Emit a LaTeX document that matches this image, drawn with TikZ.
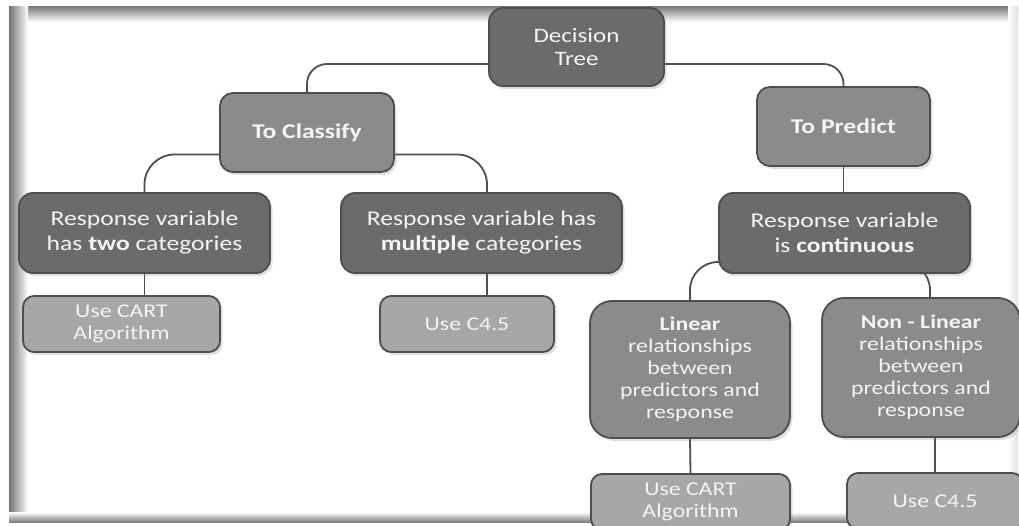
\documentclass[tikz,border=0pt]{standalone}
\usepackage{fontspec}
\setmainfont{Carlito}[FakeStretch=1.22]
\usetikzlibrary{shadows}
\definecolor{darkbox}{HTML}{6B6B6B}
\definecolor{midbox}{HTML}{8B8B8B}
\definecolor{lightbox}{HTML}{A7A7A7}
\definecolor{edgecol}{HTML}{4E4E4E}
\definecolor{txt}{HTML}{F4F4F4}
\pgfdeclarelayer{framelayer}
\pgfdeclarelayer{background}
\pgfsetlayers{framelayer,background,main}
\tikzset{
  box/.style={draw=edgecol, line width=1.8pt, text=txt, align=center, inner sep=0pt,
    drop shadow={opacity=0.25, shadow xshift=2.5pt, shadow yshift=-3pt}},
  bigfont/.style={font=\fontsize{21}{25}\selectfont},
  smallfont/.style={font=\fontsize{19.5}{22}\selectfont},
  darkb/.style={box, bigfont, fill=darkbox, rounded corners=14pt},
  midb/.style={box, bigfont, fill=midbox, rounded corners=13pt},
  tallb/.style={box, smallfont, fill=midbox, rounded corners=22pt},
  leafb/.style={box, smallfont, fill=lightbox, rounded corners=11pt},
  conn/.style={draw=edgecol, line width=1.8pt},
}
\begin{document}
\begin{tikzpicture}[x=1pt, y=-1pt]
\useasboundingbox (0,0) rectangle (1019,526);
\begin{pgfonlayer}{framelayer}
  \fill[white] (0,0) rectangle (1019,526);
  \shade[top color=black!50, bottom color=white] (9,7) rectangle (1018,22);
  \shade[left color=black!55, right color=white] (9,7) rectangle (28,522);
  \shade[bottom color=black!50, top color=white] (9,512) rectangle (1018,522);
  \shade[right color=black!12, left color=white] (1008,7) rectangle (1018,522);
\end{pgfonlayer}

% nodes
\node[darkb, minimum width=175pt, minimum height=78pt, font=\fontsize{20.5}{23}\selectfont] (dt) at (576.5,47) {Decision\\Tree};
\node[midb, minimum width=174pt, minimum height=79pt] (tc) at (307,132.5) {\textbf{To Classify}};
\node[midb, minimum width=173pt, minimum height=79pt] (tp) at (843.5,126.5) {\textbf{To Predict}};

\node[darkb, minimum width=251pt, minimum height=80pt] (r2) at (144.5,233) {Response variable\\has \textbf{two} categories};
\node[darkb, minimum width=281pt, minimum height=80pt] (rm) at (481.5,233) {Response variable has\\\textbf{multiple} categories};
\node[darkb, minimum width=251pt, minimum height=80pt] (rc) at (844.5,233) {Response variable\\is \textbf{continuous}};

\node[leafb, minimum width=197pt, minimum height=56pt] (cart1) at (121.5,324) {Use CART\\Algorithm};
\node[leafb, minimum width=174pt, minimum height=56pt] (c45a) at (467,324) {Use C4.5};

\node[tallb, minimum width=200pt, minimum height=137pt] (lin) at (690,369.5) {\textbf{Linear}\\relationships\\between\\predictors and\\response};
\node[tallb, minimum width=198pt, minimum height=139pt] (nlin) at (921,367.5) {\textbf{Non - Linear}\\relationships\\between\\predictors and\\response};

\node[leafb, minimum width=199pt, minimum height=56pt] (cart2) at (690.5,502) {Use CART\\Algorithm};
\node[leafb, minimum width=176pt, minimum height=56pt] (c45b) at (935,501) {Use C4.5};

% connectors
\begin{pgfonlayer}{background}
  \draw[conn, rounded corners=20pt] ([yshift=-17pt]dt.center) -| (tc.north);
  \draw[conn, rounded corners=20pt] ([yshift=-17pt]dt.center) -| (tp.north);
  \draw[conn, rounded corners=30pt] ([yshift=-22pt]tc.center) -| (r2.north);
  \draw[conn, rounded corners=30pt] ([yshift=-22pt]tc.center) -| ([xshift=5.5pt]rm.north);
  \draw[conn] (tp.south) -- (tp.south |- rc.north);
  \draw[conn] (r2.south) -- (r2.south |- cart1.north);
  \draw[conn] ([xshift=5.5pt]rm.south) -- ([xshift=5.5pt]rm.south |- c45a.north);
  \draw[conn, rounded corners=28pt] ([yshift=-29pt]rc.center) -| (lin.north);
  \draw[conn, rounded corners=28pt] ([yshift=-29pt]rc.center) -| ([xshift=9pt]nlin.north);
  \draw[conn] (lin.south) -- (cart2.north);
  \draw[conn] (nlin.south -| c45b.north) -- (c45b.north);
\end{pgfonlayer}
\end{tikzpicture}
\end{document}
